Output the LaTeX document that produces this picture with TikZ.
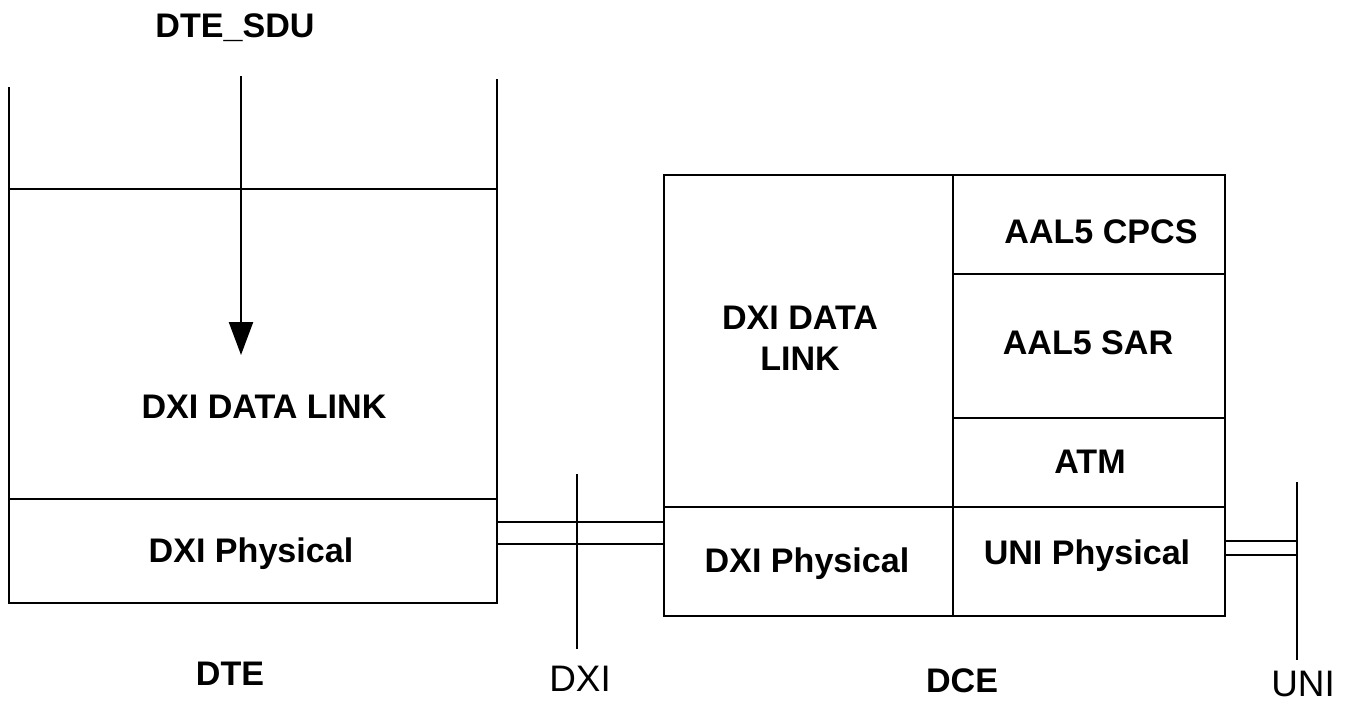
\documentclass[tikz,border=0pt]{standalone}
\usepackage{fontspec}
\setmainfont{Liberation Sans}
\usepackage{tikz}
\usetikzlibrary{arrows.meta,positioning}
\definecolor{dxiink}{HTML}{000000}

\begin{document}
\begin{tikzpicture}[x=0.02cm,y=-0.02cm,line cap=butt,line join=miter,
  font=\fontsize{19.4}{23.2}\selectfont\bfseries,text=dxiink,
  ln/.style={draw=dxiink,line width=1.3pt},
  lay/.style={align=center,inner sep=0pt,anchor=base},
  ifc/.style={font=\fontsize{21}{25}\selectfont,inner sep=0pt,anchor=base},
  arr/.style={ln,-{Triangle[length=6.6mm,width=4.8mm]}}]
\path[use as bounding box] (0,0) rectangle (1351,704);
\fill[white] (0,0) rectangle (1351,704);
% DTE stack, open at the top
\draw[ln] (9,87) -- (9,603) -- (497,603) -- (497,79);
\draw[ln] (9,189) -- (497,189);
\draw[ln] (9,499) -- (497,499);
\node[lay] (sdu) at (235,37) {DTE\_SDU};
\coordinate (sdutop) at (241,76);
\coordinate (sdutip) at (241,355);
\draw[arr] (sdutop) -- (sdutip);
\node[lay] (dtelink) at (264,418) {DXI DATA LINK};
\node[lay] (dtephy) at (251,562) {DXI Physical};
\node[lay] (dte) at (230,685) {DTE};
% DCE stack
\draw[ln] (664,175) rectangle (1225,616);
\draw[ln] (953,175) -- (953,616);
\draw[ln] (953,274) -- (1225,274);
\draw[ln] (953,418) -- (1225,418);
\draw[ln] (664,507) -- (1225,507);
\node[lay] (cpcs) at (1101,243) {AAL5 CPCS};
\node[lay] (sar) at (1088,354) {AAL5 SAR};
\node[lay] (atm) at (1090,473) {ATM};
\node[lay] (uniphy) at (1087,564) {UNI Physical};
\node[lay,anchor=center] (dcelink) at (800,338) {DXI DATA\\LINK};
\node[lay] (dcephy) at (807,572) {DXI Physical};
\node[lay] (dce) at (962,692) {DCE};
% interfaces
\draw[ln] (497,522) -- (664,522);
\draw[ln] (497,544) -- (664,544);
\draw[ln] (577,474) -- (577,649);
\node[ifc] (dxi) at (580,691) {DXI};
\draw[ln] (1225,541) -- (1297,541);
\draw[ln] (1225,555) -- (1297,555);
\draw[ln] (1297,482) -- (1297,660);
\node[ifc] (uni) at (1303,696) {UNI};
\end{tikzpicture}
\end{document}
